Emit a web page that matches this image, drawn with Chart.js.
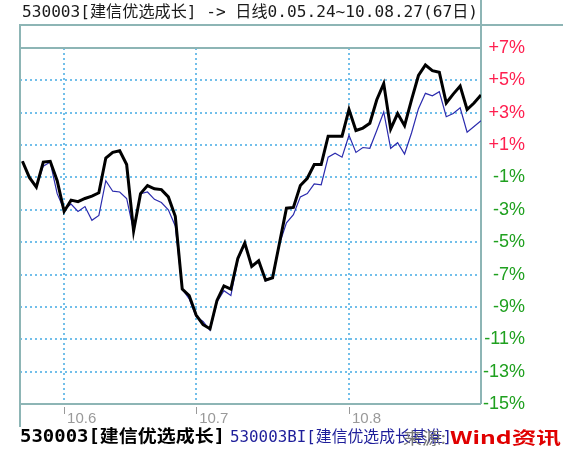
<!DOCTYPE html>
<html>
<head>
<meta charset="utf-8">
<script src="https://cdn.jsdelivr.net/npm/chart.js@4.4.0/dist/chart.umd.min.js"></script>
<style>
  html, body { margin: 0; padding: 0; background: #fff; }
  #chart { display: block; }
</style>
</head>
<body>
<canvas id="chart" width="563" height="451"></canvas>
<script>
// trading days 2010-05-24 .. 2010-08-27 (67 days)
const dates = [
    "2010-05-24", "2010-05-25", "2010-05-26", "2010-05-27", "2010-05-28", "2010-05-31",
    "2010-06-01", "2010-06-02", "2010-06-03", "2010-06-04", "2010-06-07", "2010-06-08",
    "2010-06-09", "2010-06-10", "2010-06-11", "2010-06-17", "2010-06-18", "2010-06-21",
    "2010-06-22", "2010-06-23", "2010-06-24", "2010-06-25", "2010-06-28", "2010-06-29",
    "2010-06-30",
    "2010-07-01", "2010-07-02", "2010-07-05", "2010-07-06", "2010-07-07", "2010-07-08",
    "2010-07-09", "2010-07-12", "2010-07-13", "2010-07-14", "2010-07-15", "2010-07-16",
    "2010-07-19", "2010-07-20", "2010-07-21", "2010-07-22", "2010-07-23", "2010-07-26",
    "2010-07-27", "2010-07-28", "2010-07-29", "2010-07-30",
    "2010-08-02", "2010-08-03", "2010-08-04", "2010-08-05", "2010-08-06", "2010-08-09",
    "2010-08-10", "2010-08-11", "2010-08-12", "2010-08-13", "2010-08-16", "2010-08-17",
    "2010-08-18", "2010-08-19", "2010-08-20", "2010-08-23", "2010-08-24", "2010-08-25",
    "2010-08-26", "2010-08-27"
];

// cumulative change in %
const fundValues = [
    0.0, -1.0, -1.6, -0.05, 0.0, -1.2, -3.1, -2.4, -2.5, -2.3,
    -2.15, -1.95, 0.2, 0.55, 0.65, -0.2, -4.3, -2.0, -1.5, -1.7,
    -1.75, -2.2, -3.4, -7.9, -8.3, -9.5, -10.1, -10.35, -8.6, -7.7,
    -7.9, -6.0, -5.05, -6.5, -6.15, -7.35, -7.2, -5.05, -2.9, -2.85,
    -1.5, -1.05, -0.2, -0.2, 1.55, 1.55, 1.55, 3.2, 1.9, 2.05,
    2.35, 3.8, 4.8, 2.0, 2.95, 2.2, 3.8, 5.3, 5.95, 5.6,
    5.5, 3.6, 4.15, 4.65, 3.2, 3.6, 4.1
];
const benchValues = [
    0.0, -1.0, -1.6, -0.3, -0.05, -2.0, -3.0, -2.65, -3.1, -2.8,
    -3.65, -3.35, -1.2, -1.85, -1.9, -2.3, -4.3, -2.0, -1.9, -2.35,
    -2.55, -3.0, -4.0, -7.9, -8.5, -9.6, -9.9, -10.45, -8.7, -8.0,
    -8.3, -6.1, -5.1, -6.5, -6.2, -7.4, -7.2, -5.1, -3.8, -3.3,
    -2.2, -2.0, -1.4, -1.45, 0.25, 0.5, 0.25, 1.6, 0.55, 0.85,
    0.8, 1.9, 3.05, 0.8, 1.15, 0.45, 1.75, 3.25, 4.2, 4.05,
    4.3, 2.75, 2.95, 3.3, 1.8, 2.15, 2.5
];

const yTicks = [7, 5, 3, 1, -1, -3, -5, -7, -9, -11, -13, -15];
const xTickMonths = ["06", "07", "08"];
const xTickLabels = ["10.6", "10.7", "10.8"];

const titleText = "530003[建信优选成长] -> 日线0.05.24~10.08.27(67日)";
const fundName = "530003[建信优选成长]";
const benchName = "530003BI[建信优选成长基准]";
const sourceLabel = "来源:";
const sourceName = "Wind资讯";

// first trading day of each labelled month
const xTickIndex = xTickMonths.map(m => dates.findIndex(d => d.slice(5, 7) === m));

const frameColor = "#8db5b5";
const gridColor = "#72bfea";
const monoCjk = '"DejaVu Sans Mono", "Noto Sans CJK SC", sans-serif';

function fitText(ctx, text, x, y, width, font, color) {
    ctx.save();
    ctx.font = font;
    ctx.fillStyle = color;
    ctx.textBaseline = "middle";
    const w = ctx.measureText(text).width;
    ctx.translate(x, y);
    ctx.scale(width / w, 1);
    ctx.fillText(text, 0, 0);
    ctx.restore();
}

const framePlugin = {
    id: "frame",
    beforeDraw(chart) {
        const ctx = chart.ctx;
        ctx.save();
        ctx.fillStyle = "#fff";
        ctx.fillRect(0, 0, chart.width, chart.height);
        ctx.restore();
    },
    beforeDatasetsDraw(chart) {
        const { ctx, chartArea: a } = chart;
        ctx.save();
        ctx.strokeStyle = frameColor;
        ctx.lineWidth = 2;
        ctx.beginPath();
        ctx.moveTo(a.left, 25); ctx.lineTo(chart.width, 25);
        ctx.moveTo(a.left, a.top); ctx.lineTo(a.right, a.top);
        ctx.moveTo(a.left, a.bottom); ctx.lineTo(a.right, a.bottom);
        ctx.moveTo(a.right, 0); ctx.lineTo(a.right, a.bottom);
        ctx.moveTo(a.left, 24); ctx.lineTo(a.left, 427);
        ctx.stroke();
        ctx.restore();
    },
    afterDraw(chart) {
        const { ctx, chartArea: a, scales } = chart;
        // small tick marks under the axis
        ctx.save();
        ctx.strokeStyle = "#999";
        ctx.lineWidth = 1;
        ctx.beginPath();
        xTickIndex.forEach(i => {
            const x = Math.round(scales.x.getPixelForValue(i)) + 0.5;
            ctx.moveTo(x, a.bottom + 3);
            ctx.lineTo(x, a.bottom + 10);
        });
        ctx.stroke();
        ctx.restore();

        fitText(ctx, titleText, 22, 13, 456, "16px " + monoCjk, "#1a1a1a");

        fitText(ctx, fundName, 20, 438, 205, "bold 17px " + monoCjk, "#000");
        fitText(ctx, benchName, 230, 438, 222, "16px " + monoCjk, "#1e1e9a");
        fitText(ctx, sourceLabel, 403, 438, 43, '16px "Noto Sans CJK SC"', "#777");
        fitText(ctx, sourceName, 450, 438, 111, 'bold 17px "Noto Sans CJK SC"', "#e00000");
    }
};

Chart.defaults.font.family = '"Liberation Sans", Arial, sans-serif';

new Chart(document.getElementById("chart"), {
    type: "line",
    data: {
        datasets: [
            {
                label: fundName,
                data: fundValues.map((v, i) => ({ x: i, y: v })),
                borderColor: "#000",
                borderWidth: 3,
                pointRadius: 0,
                tension: 0
            },
            {
                label: benchName,
                data: benchValues.map((v, i) => ({ x: i, y: v })),
                borderColor: "#2b2bae",
                borderWidth: 1.2,
                pointRadius: 0,
                tension: 0
            }
        ]
    },
    options: {
        responsive: false,
        animation: false,
        layout: { padding: { left: 20, top: 48, right: 38, bottom: 0 } },
        plugins: {
            legend: { display: false },
            tooltip: { enabled: false }
        },
        scales: {
            x: {
                type: "linear",
                min: -0.35,
                max: dates.length - 1,
                afterBuildTicks: scale => {
                    scale.ticks = xTickIndex.map(v => ({ value: v }));
                },
                afterFit: scale => { scale.height = 47; },
                grid: {
                    color: gridColor,
                    lineWidth: 2,
                    drawTicks: false
                },
                border: { display: false, dash: [2, 3] },
                ticks: {
                    align: "start",
                    labelOffset: 3,
                    padding: 6,
                    color: "#999",
                    font: { size: 15 },
                    callback: (v, i) => xTickLabels[i]
                }
            },
            y: {
                position: "right",
                min: -15,
                max: 7,
                afterBuildTicks: scale => {
                    scale.ticks = yTicks.map(v => ({ value: v }));
                },
                afterFit: scale => { scale.width = 44; },
                grid: {
                    color: gridColor,
                    lineWidth: 2,
                    drawTicks: false
                },
                border: { display: false, dash: [2, 3] },
                ticks: {
                    crossAlign: "far",
                    padding: 2,
                    font: { size: 18 },
                    color: c => c.tick.value > 0 ? "#ff1f4f" : "#1fa01f",
                    callback: v => (v > 0 ? "+" : "") + v + "%"
                }
            }
        }
    },
    plugins: [framePlugin]
});
</script>
</body>
</html>
